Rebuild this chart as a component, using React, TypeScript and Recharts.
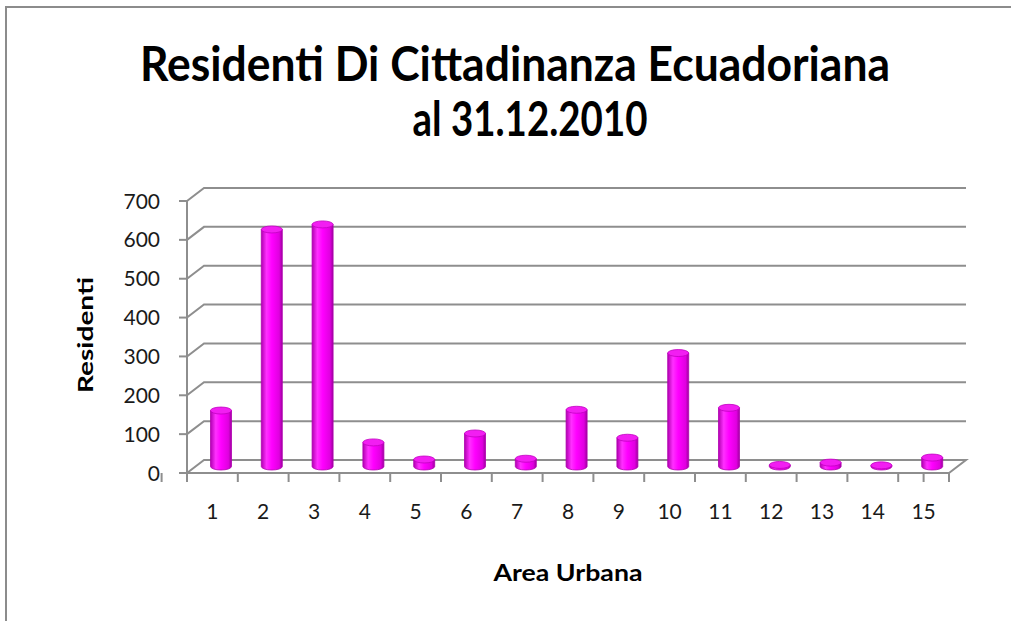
import React from "react";
import { BarChart, Bar, XAxis, YAxis, CartesianGrid } from "recharts";

const categories = ["1", "2", "3", "4", "5", "6", "7", "8", "9", "10", "11", "12", "13", "14", "15"];
const residenti = [144, 610, 623, 62, 18, 85, 20, 146, 74, 292, 151, 4, 10, 3, 23];
const yTicks = [0, 100, 200, 300, 400, 500, 600, 700];

const data = categories.map((c, i) => ({ area: c, value: residenti[i] }));

const W = 1011;
const H = 621;
const Y_AXIS_W = 60;
const X_AXIS_H = 60;
const M = { top: 201, right: 62, bottom: 148 - X_AXIS_H, left: 187 - Y_AXIS_W };
const PLOT_BOTTOM = H - 148;
const DX = 17;
const DY = -13;
const GRID = "#8e8e8e";
const FONT = "Lato, 'Open Sans', sans-serif";

const Cylinder = (props: any) => {
  const { x, y, width, height } = props;
  const cx = x + DX / 2;
  const top = y + DY / 2;
  const bottom = y + height + DY / 2;
  const rx = width / 2;
  const ry = 3.5;
  return (
    <g>
      <path
        d={`M${cx},${top} L${cx},${bottom} A${rx},${ry} 0 0 0 ${cx + width},${bottom} L${cx + width},${top} Z`}
        fill="url(#cylGrad)"
        stroke="#b000b0"
        strokeWidth={0.8}
      />
      <ellipse cx={cx + rx} cy={top} rx={rx} ry={ry} fill="#f21ef2" stroke="#c000c0" strokeWidth={0.8} />
    </g>
  );
};

const gridLine = (props: any) => {
  const { x1, y1, x2, key } = props;
  const isFloor = Math.abs(y1 - PLOT_BOTTOM) < 1;
  let d = `M${x1},${y1} L${x1 + DX},${y1 + DY} L${x2 + DX},${y1 + DY}`;
  if (isFloor) d += ` L${x2},${y1}`;
  return <path key={key} d={d} fill="none" stroke={GRID} strokeWidth={2} />;
};

// category boundary tick marks below the floor (Excel style), derived from category centres
const boundaryTick = (props: any) => {
  const { x1, key, index, width } = props;
  const half = width / categories.length / 2;
  const last = index === categories.length - 1;
  return (
    <g key={key}>
      <line x1={x1 - half} x2={x1 - half} y1={PLOT_BOTTOM} y2={PLOT_BOTTOM + 9} stroke={GRID} strokeWidth={2} />
      {last && <line x1={x1 + half} x2={x1 + half} y1={PLOT_BOTTOM} y2={PLOT_BOTTOM + 9} stroke={GRID} strokeWidth={2} />}
    </g>
  );
};

const XTick = (props: any) => {
  const { x, y, payload } = props;
  return (
    <text x={x} y={y + 44} textAnchor="middle" fill="#1a1a1a" fontSize={21} fontFamily={FONT}>
      {payload.value}
    </text>
  );
};

const YTick = (props: any) => {
  const { x, y, payload } = props;
  return (
    <text x={160} y={y + 7.5} textAnchor="end" fill="#1a1a1a" fontSize={21} fontFamily={FONT}>
      {payload.value}
    </text>
  );
};

export default function App() {
  return (
    <div style={{ position: "absolute", left: 0, top: 0, width: W, height: H, background: "#fff", overflow: "hidden" }}>
      <div
        style={{
          position: "absolute",
          left: 5,
          top: 6,
          width: W + 10,
          height: H + 10,
          borderLeft: "2px solid #8c8c8c",
          borderTop: "2px solid #8c8c8c",
        }}
      />
      <div style={{ position: "absolute", left: 0, top: 0 }}>
        <BarChart width={W} height={H} data={data} margin={M} barSize={21}>
          <defs>
            <linearGradient id="cylGrad" x1="0" y1="0" x2="1" y2="0">
              <stop offset="0%" stopColor="#b000b0" />
              <stop offset="25%" stopColor="#ff30ff" />
              <stop offset="50%" stopColor="#ff00ff" />
              <stop offset="85%" stopColor="#e000e0" />
              <stop offset="100%" stopColor="#a000a0" />
            </linearGradient>
          </defs>
          <CartesianGrid horizontal={gridLine} vertical={boundaryTick} />
          <XAxis
            dataKey="area"
            height={X_AXIS_H}
            tickLine={false}
            tickSize={0}
            axisLine={{ stroke: GRID, strokeWidth: 2 }}
            tick={<XTick />}
            interval={0}
          />
          <YAxis
            width={Y_AXIS_W}
            domain={[0, 700]}
            ticks={yTicks}
            interval={0}
            tickSize={8}
            axisLine={{ stroke: GRID, strokeWidth: 2 }}
            tickLine={{ stroke: GRID, strokeWidth: 2 }}
            tick={<YTick />}
          />
          <Bar dataKey="value" shape={<Cylinder />} isAnimationActive={false} />
        </BarChart>
      </div>
      <svg width={W} height={H} style={{ position: "absolute", left: 0, top: 0, pointerEvents: "none" }}>
        <text x={515} y={81} textAnchor="middle" fontFamily={FONT} fontWeight="bold" fontSize={48} fill="#000" textLength={750} lengthAdjust="spacingAndGlyphs">
          Residenti Di Cittadinanza Ecuadoriana
        </text>
        <text x={530} y={136} textAnchor="middle" fontFamily={FONT} fontWeight="bold" fontSize={48} fill="#000" textLength={235} lengthAdjust="spacingAndGlyphs">
          al 31.12.2010
        </text>
        <text
          x={0}
          y={0}
          transform="translate(93,335) rotate(-90)"
          textAnchor="middle"
          fontFamily={FONT}
          fontWeight="bold"
          fontSize={21}
          fill="#000"
          textLength={116}
          lengthAdjust="spacingAndGlyphs"
        >
          Residenti
        </text>
        <text x={568} y={581} textAnchor="middle" fontFamily={FONT} fontWeight="bold" fontSize={22} fill="#000" textLength={149} lengthAdjust="spacingAndGlyphs">
          Area Urbana
        </text>
      </svg>
    </div>
  );
}
